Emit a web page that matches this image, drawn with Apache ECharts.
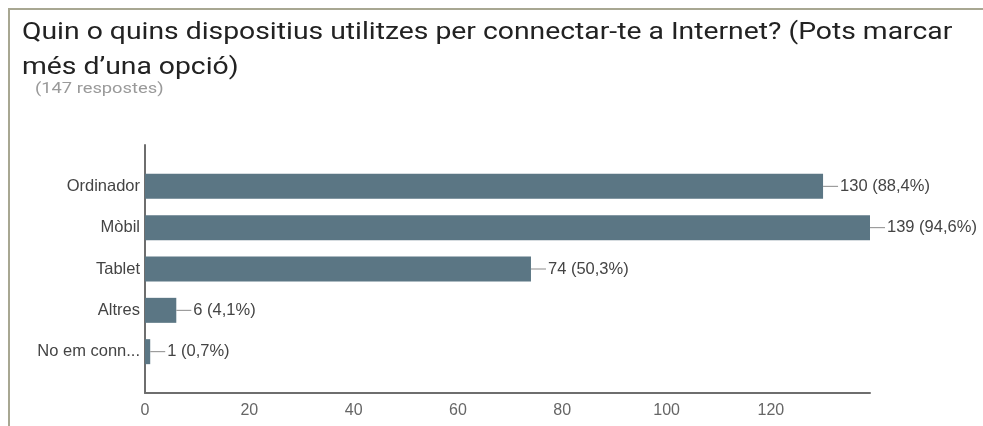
<!DOCTYPE html>
<html>
<head>
<meta charset="utf-8">
<script src="https://cdn.jsdelivr.net/npm/echarts@6/dist/echarts.min.js"></script>
<style>
html,body{margin:0;padding:0;background:#fff;}
#wrap{position:relative;width:983px;height:426px;overflow:hidden;}
#chart{position:absolute;left:0;top:0;width:983px;height:426px;}
#frame{position:absolute;left:8px;top:8px;width:990px;height:430px;border-top:2px solid #a8a792;border-left:2px solid #a8a792;pointer-events:none;}
</style>
</head>
<body>
<div id="wrap"><div id="chart"></div><div id="frame"></div></div>
<script>
const titleText = "Quin o quins dispositius utilitzes per connectar-te a Internet? (Pots marcar\nmés d\u2019una opció)";
const subtitleText = "(147 respostes)";
const totalResponses = 147;
const categories = ["Ordinador", "Mòbil", "Tablet", "Altres", "No em conn..."];
const values = [130, 139, 74, 6, 1];
const xTicks = [0, 20, 40, 60, 80, 100, 120];

const pct = values.map(v => (v / totalResponses * 100).toFixed(1).replace('.', ','));
// pad with empty slots so that bars sit at Google-Charts-like offsets from the axis ends
const yCats = [''].concat(categories, ['']);
const yData = [null].concat(values, [null]);

const chart = echarts.init(document.getElementById('chart'), null, {renderer: 'canvas'});
chart.setOption({
  animation: false,
  backgroundColor: '#fff',
  graphic: [
    {type: 'text', x: 22, y: 15, scaleX: 1.18, scaleY: 1, silent: true,
     style: {text: titleText, fontFamily: 'Roboto', fontSize: 24, fill: '#222', lineHeight: 35,
             align: 'left', verticalAlign: 'top'}},
    {type: 'text', x: 35, y: 82, scaleX: 1.22, scaleY: 1, silent: true,
     style: {text: subtitleText, fontFamily: 'Roboto', fontSize: 15, fill: '#9a9a9a',
             align: 'left', verticalAlign: 'top'}}
  ],
  grid: {left: 145, right: 113, top: 145, bottom: 33, containLabel: false},
  xAxis: {
    type: 'value', min: 0, max: Math.max.apply(null, values), interval: xTicks[1] - xTicks[0],
    axisLine: {show: true, lineStyle: {color: '#6e6e6e', width: 2}},
    axisTick: {show: false},
    splitLine: {show: false},
    axisLabel: {showMaxLabel: false, margin: 10, color: '#666', fontFamily: 'Liberation Sans, Arial', fontSize: 16,
      formatter: v => xTicks.indexOf(v) >= 0 ? String(v) : ''}
  },
  yAxis: {
    type: 'category', data: yCats, inverse: true, boundaryGap: false,
    axisLine: {show: true, lineStyle: {color: '#6e6e6e', width: 2}},
    axisTick: {show: false},
    axisLabel: {margin: 5, color: '#444', fontFamily: 'Liberation Sans, Arial', fontSize: 16.5}
  },
  series: [{
    type: 'bar', data: yData, barWidth: 25,
    itemStyle: {color: '#5b7684'},
    label: {
      show: true, position: 'right', distance: 0,
      formatter: p => '{l|}{t|' + p.value + ' (' + pct[p.dataIndex - 1] + '%)}',
      rich: {
        l: {width: 15, height: 1, backgroundColor: '#8a8a8a'},
        t: {fontFamily: 'Liberation Sans, Arial', fontSize: 16.5, color: '#444', padding: [0, 0, 0, 2]}
      }
    }
  }]
});
</script>
</body>
</html>
